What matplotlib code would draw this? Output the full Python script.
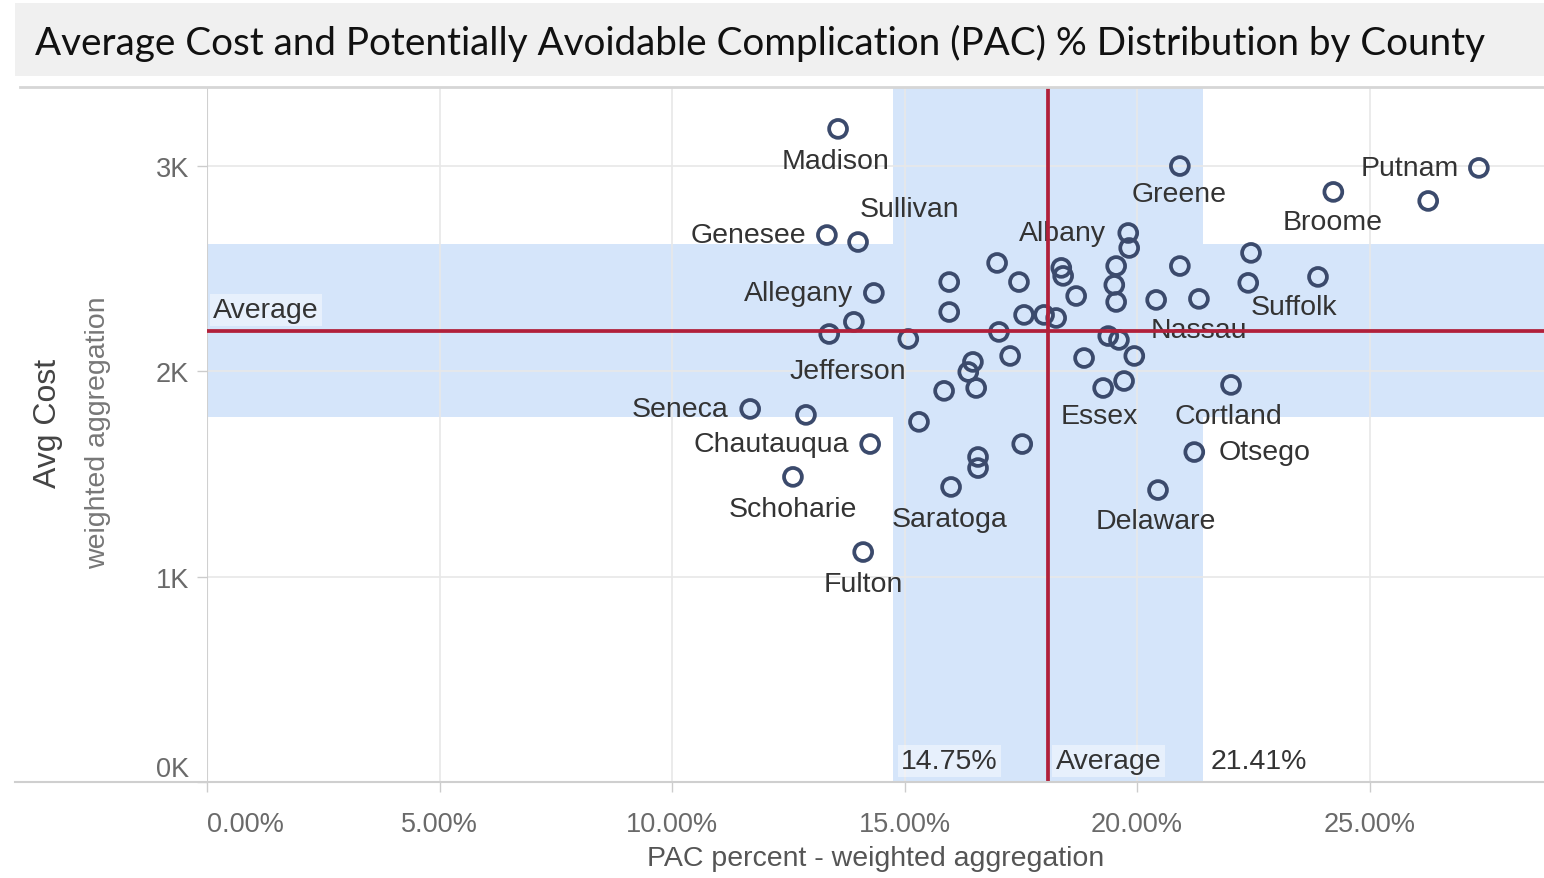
import matplotlib.pyplot as plt
from matplotlib.lines import Line2D
from matplotlib.patches import Rectangle

# one entry per county point: PAC percent (x) and average cost in dollars (y)
pac_pct = [13.57, 20.92, 27.35, 24.22, 26.26, 13.33, 14.00, 19.81, 19.83, 22.45,
           16.99, 18.37, 18.41, 19.55, 20.92, 23.89, 22.39, 15.96, 17.46, 19.51,
           14.34, 18.69, 20.41, 21.33, 19.55, 15.96, 17.57, 18.00, 18.26, 13.91,
           13.38, 17.03, 15.08, 19.38, 19.61, 17.27, 18.86, 19.94, 16.47, 16.37,
           16.54, 15.85, 19.72, 19.27, 22.02, 11.68, 12.88, 15.31, 14.26, 17.53,
           21.23, 16.58, 16.58, 12.60, 16.00, 20.45, 14.11]
avg_cost = [3181, 3000, 2991, 2874, 2830, 2664, 2630, 2674, 2601, 2577,
            2528, 2504, 2465, 2513, 2513, 2460, 2431, 2435, 2435, 2421,
            2382, 2367, 2348, 2353, 2338, 2289, 2275, 2275, 2260, 2241,
            2182, 2192, 2158, 2172, 2153, 2075, 2065, 2075, 2046, 1997,
            1919, 1905, 1953, 1919, 1934, 1817, 1788, 1754, 1646, 1646,
            1607, 1583, 1529, 1486, 1437, 1422, 1120]
county = ['Madison', 'Greene', 'Putnam', 'Broome', '', 'Genesee', 'Sullivan', 'Albany', '', '',
          '', '', '', '', '', 'Suffolk', '', '', '', '',
          'Allegany', '', '', 'Nassau', '', '', '', '', '', 'Jefferson',
          '', '', '', '', '', '', '', '', '', '',
          '', '', '', 'Essex', 'Cortland', 'Seneca', '', '', 'Chautauqua', '',
          'Otsego', '', '', 'Schoharie', 'Saratoga', 'Delaware', 'Fulton']

# reference lines / bands
pac_avg = 18.08
pac_band = [14.75, 21.41]
cost_avg = 2197
cost_band = [1778, 2620]

x_ticks = [0, 5, 10, 15, 20, 25]
y_ticks = [0, 1000, 2000, 3000]

# label placement next to each named point (pixels, horizontal alignment)
label_pos = {
    'Madison': (-3, -32, 'center'), 'Greene': (-1, -28, 'center'),
    'Putnam': (-20, 0, 'right'), 'Broome': (-1, -30, 'center'),
    'Genesee': (-21, 0, 'right'), 'Sullivan': (51, 33, 'center'),
    'Albany': (-22, 0, 'right'), 'Suffolk': (-24, -30, 'center'),
    'Allegany': (-21, 0, 'right'), 'Nassau': (0, -31, 'center'),
    'Jefferson': (-6, -49, 'center'), 'Essex': (-4, -28, 'center'),
    'Cortland': (-3, -31, 'center'), 'Seneca': (-22, 0, 'right'),
    'Chautauqua': (-21, 0, 'right'), 'Otsego': (24, 0, 'left'),
    'Schoharie': (0, -32, 'center'), 'Saratoga': (-2, -32, 'center'),
    'Delaware': (-2, -31, 'center'), 'Fulton': (0, -32, 'center'),
}

BAND = '#d5e5fa'
RED = '#b1203a'
NAVY = '#3b4a6c'
GRID = '#e8e8e8'
TICK = '#6a6a6a'

plt.rcParams['font.family'] = ['Liberation Sans', 'DejaVu Sans']

W, H = 1544, 879
fig = plt.figure(figsize=(W / 100, H / 100), dpi=100)
fig.patch.set_facecolor('white')

# title bar
fig.patches.append(Rectangle((15 / W, 1 - 77 / H), 1 - 15 / W, 73 / H, transform=fig.transFigure,
                             facecolor='#f0f0f0', edgecolor='none', zorder=0))
fig.text(35 / W, 1 - 43 / H,
         'Average Cost and Potentially Avoidable Complication (PAC) % Distribution by County',
         fontsize=27.8, family=['Lato', 'DejaVu Sans'], color='#111111', va='center', ha='left')

ax = fig.add_axes([207 / W, (H - 783) / H, (W - 207) / W, (783 - 88) / H])
ax.set_xlim(0, 28.75)
ax.set_ylim(0, 3385)
for s in ax.spines.values():
    s.set_visible(False)

# bands
ax.axvspan(pac_band[0], pac_band[1], color=BAND, lw=0, zorder=0)
ax.axhspan(cost_band[0], cost_band[1], color=BAND, lw=0, zorder=0)

# grid
for v in x_ticks[1:]:
    ax.axvline(v, color=GRID, lw=1.2, zorder=0.5)
for v in y_ticks[1:]:
    ax.axhline(v, color=GRID, lw=1.2, zorder=0.5)
ax.axvline(0, color='#d0d0d0', lw=1.5, zorder=0.6)

# points
ax.scatter(pac_pct, avg_cost, s=165, facecolors='none', edgecolors=NAVY, linewidths=2.7, zorder=2)

for x, y, name in zip(pac_pct, avg_cost, county):
    if not name:
        continue
    dx, dy, ha = label_pos[name]
    ax.annotate(name, (x, y), xytext=(dx, dy), textcoords='offset pixels',
                ha=ha, va='center', fontsize=20.5, color='#333333', zorder=3)

# average lines
ax.axvline(pac_avg, color=RED, lw=2.7, zorder=4)
ax.axhline(cost_avg, color=RED, lw=2.7, zorder=4)

box = dict(boxstyle='square,pad=0.12', facecolor='white', alpha=0.45, edgecolor='none')
ax.annotate('Average', (0, cost_avg), xytext=(6, 8), textcoords='offset pixels',
            ha='left', va='bottom', fontsize=20.5, color='#333333', bbox=box, zorder=5)
for val, txt in [(pac_band[0], f'{pac_band[0]:.2f}%'), (pac_avg, 'Average'),
                 (pac_band[1], f'{pac_band[1]:.2f}%')]:
    ax.annotate(txt, (val, 0), xycoords=('data', 'axes fraction'), xytext=(8, 8),
                textcoords='offset pixels', ha='left', va='bottom', fontsize=20.5,
                color='#333333', bbox=box, zorder=5)

# ticks
ax.set_xticks(x_ticks)
ax.set_xticklabels([f'{v:.2f}%' for v in x_ticks])
ax.set_yticks(y_ticks)
ax.set_yticklabels([f'{v // 1000}K' for v in y_ticks])
ax.tick_params(axis='x', length=7, width=1, color='#cccccc', pad=14, labelsize=19.5, labelcolor=TICK)
ax.tick_params(axis='y', length=7, width=1, color='#cccccc', pad=6, labelsize=19.5, labelcolor=TICK)
ax.get_xticklabels()[0].set_ha('left')
ax.get_yticklabels()[0].set_va('bottom')

ax.set_xlabel('PAC percent - weighted aggregation', fontsize=20.5, color='#555555', labelpad=6)

fig.text(48 / W, 1 - 423 / H, 'Avg Cost', rotation=90, fontsize=23, color='#444444',
         ha='center', va='center')
fig.text(98 / W, 1 - 433 / H, 'weighted aggregation', rotation=90, fontsize=20.5,
         color='#777777', ha='center', va='center')

# frame lines across the whole panel
fig.lines.append(Line2D([15 / W, 1], [1 - 783 / H] * 2, transform=fig.transFigure,
                        color='#cfcfcf', lw=1.5))
fig.lines.append(Line2D([20 / W, 1], [1 - 88 / H] * 2, transform=fig.transFigure,
                        color='#d6d6d6', lw=2))

fig.savefig('out.png', dpi=100)
